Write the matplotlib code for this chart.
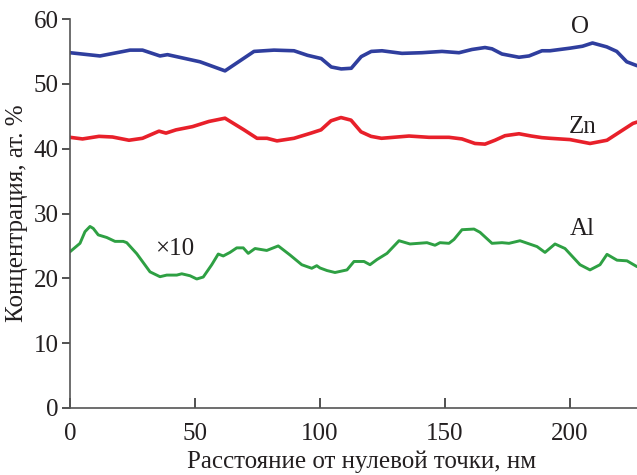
import matplotlib
matplotlib.use("Agg")
import matplotlib.pyplot as plt

# O (blue)
o_x = [0, 12, 24, 29, 36, 39, 52, 62, 73.6, 81.6, 89.6, 95, 100.5, 104.5, 108.5, 112.5, 116.5, 120.5,
       124.8, 132.8, 140.8, 148.8, 155.6, 160.8, 166, 168.8, 172.8, 179.6, 183.6, 188.8,
       192, 200, 205, 209, 214.7, 218.7, 222.7, 226.8]
o_y = [54.8, 54.3, 55.2, 55.2, 54.3, 54.5, 53.4, 52.0, 55.0, 55.2, 55.1, 54.4, 53.9, 52.6, 52.3, 52.4, 54.2, 55.0,
       55.1, 54.7, 54.8, 55.0, 54.8, 55.3, 55.6, 55.4, 54.6, 54.1, 54.3, 55.1,
       55.1, 55.5, 55.8, 56.3, 55.7, 55.0, 53.4, 52.8]

# Zn (red)
zn_x = [0, 5, 11.6, 17, 23.6, 29, 35.6, 38.4, 42.4, 49, 55.6, 62, 69.6, 74.8, 78.8, 82.8, 89.6, 96.4,
        100.4, 104.4, 108.4, 112.4, 116.4, 120.4, 124.6, 135.6, 143.6, 151.6, 156.8, 162, 166, 170,
        174, 179.6, 184.5, 188.8, 192, 200, 208, 214.8, 220, 225.2, 226.8]
zn_y = [41.75, 41.5, 41.9, 41.8, 41.3, 41.6, 42.7, 42.4, 42.9, 43.4, 44.2, 44.7, 42.9, 41.6, 41.6, 41.2, 41.6, 42.4,
        42.9, 44.3, 44.8, 44.4, 42.6, 41.9, 41.6, 41.95, 41.75, 41.75, 41.5, 40.8, 40.7, 41.3,
        42.0, 42.3, 41.95, 41.7, 41.6, 41.4, 40.8, 41.3, 42.6, 43.9, 44.1]

# Al (green, x10)
al_x = [0, 4, 6, 8, 9.3, 11.3, 14.7, 18, 21.3, 22.7, 26.7, 32, 36, 38.7, 42.7, 44.7, 48, 50.7, 53.3,
        56.7, 59.3, 61.3, 64, 66.7, 69.3, 71.3, 74, 78.7, 83.3, 88, 92.7, 96.7, 98.7, 100, 102.8,
        106, 110.8, 113.6, 117.6, 120, 122.8, 126.8, 131.6, 136, 142.8, 146, 148, 151.6, 153.6,
        156.8, 161.6, 164, 168.8, 172.8, 175.6, 180, 186.8, 190, 194, 198, 204, 208, 212, 214.8,
        218.8, 222.8, 226.8]
al_y = [24.1, 25.4, 27.2, 28.0, 27.7, 26.7, 26.3, 25.7, 25.7, 25.5, 23.8, 21.0, 20.25, 20.5, 20.5, 20.7, 20.4, 19.9, 20.2,
        22.1, 23.75, 23.45, 24.0, 24.7, 24.7, 23.85, 24.6, 24.3, 25.0, 23.6, 22.1, 21.55, 21.95, 21.6, 21.2,
        20.9, 21.3, 22.6, 22.6, 22.1, 22.9, 23.85, 25.8, 25.3, 25.5, 25.1, 25.5, 25.4, 26.0,
        27.5, 27.6, 27.1, 25.4, 25.5, 25.4, 25.8, 24.9, 24.0, 25.3, 24.6, 22.1, 21.3, 22.1, 23.7,
        22.8, 22.7, 21.8]

x_ticks = [0, 50, 100, 150, 200]
y_ticks = [0, 10, 20, 30, 40, 50, 60]

plt.rcParams['font.family'] = ['Liberation Serif', 'DejaVu Serif']

fig = plt.figure(figsize=(6.37, 4.75), dpi=100)
ax = fig.add_axes([70/637, 67/475, 567/637, 389/475])

ax.plot(o_x, o_y, color='#2f3e9e', lw=2.6, solid_joinstyle='round', solid_capstyle='round')
ax.plot(zn_x, zn_y, color='#e8202a', lw=2.6, solid_joinstyle='round', solid_capstyle='round')
ax.plot(al_x, al_y, color='#2ea043', lw=2.1, solid_joinstyle='round', solid_capstyle='round')

ax.set_xlim(0, 226.8)
ax.set_ylim(0, 60)
ax.set_xticks(x_ticks)
ax.set_yticks(y_ticks)

for s in ['top', 'right']:
    ax.spines[s].set_visible(False)
for s in ['left', 'bottom']:
    ax.spines[s].set_color('#555555')
    ax.spines[s].set_linewidth(1.2)

ax.tick_params(axis='y', direction='out', length=6, width=1.2, color='#333333', labelsize=18, pad=2)
ax.tick_params(axis='x', direction='in', length=7, width=1.2, color='#333333', labelsize=18, pad=11)

ax.set_xlabel('Расстояние от нулевой точки, нм', fontsize=18, color='#231f20')
ax.xaxis.set_label_coords(0.515, -0.138)
ax.xaxis.label.set_va('center')
ax.set_ylabel('Концентрация, ат. %', fontsize=18, labelpad=4, color='#231f20')

ax.text(204, 58.7, 'O', fontsize=18, ha='center', va='center', color='#231f20')
ax.text(205, 43.3, 'Zn', fontsize=18, ha='center', va='center', color='#231f20')
ax.text(205, 27.6, 'Al', fontsize=18, ha='center', va='center', color='#231f20')
ax.text(42, 24.6, '×10', fontsize=18, ha='center', va='center', color='#231f20')

for lbl in ax.get_xticklabels() + ax.get_yticklabels():
    lbl.set_color('#231f20')

fig.savefig('out.png', dpi=100)
